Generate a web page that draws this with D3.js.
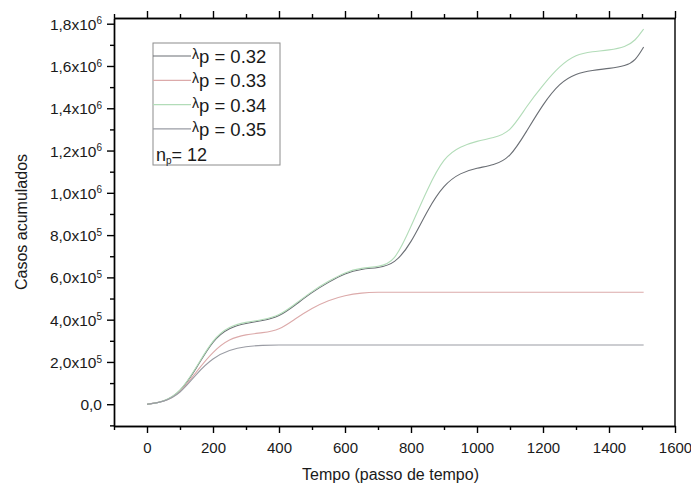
<!DOCTYPE html>
<html lang="pt">
<head>
<meta charset="utf-8">
<title>Casos acumulados</title>
<script src="https://cdn.jsdelivr.net/npm/d3@7/dist/d3.min.js"></script>
<style>
    body { margin: 0; background: #fff; }
    svg text { font-family: "Liberation Sans", Arial, sans-serif; fill: #1a1a1a; }
    .axis path, .axis line { stroke: #000; stroke-width: 1.4px; fill: none; }
    .serie { fill: none; stroke-width: 1.1px; }
</style>
</head>
<body>
<div id="grafico"></div>

<script type="text/javascript">

// tempo (passo de tempo)
var tempo = [0, 50, 100, 150, 200, 250, 300, 350, 400, 450, 500, 550, 600, 650, 700, 750,
             800, 850, 900, 950, 1000, 1050, 1100, 1150, 1200, 1250, 1300, 1350, 1400, 1450, 1480, 1505];

var casos032 = [0, 1.0e4, 5.3e4, 1.7e5, 3.05e5, 3.63e5, 3.83e5, 3.95e5, 4.13e5, 4.7e5, 5.3e5, 5.77e5, 6.2e5, 6.4e5, 6.45e5, 6.62e5,
                7.6e5, 9.2e5, 1.04e6, 1.095e6, 1.118e6, 1.13e6, 1.165e6, 1.29e6, 1.42e6, 1.52e6, 1.565e6, 1.58e6, 1.588e6, 1.6e6, 1.625e6, 1.69e6];
var casos033 = [0, 1.0e4, 5.0e4, 1.55e5, 2.5e5, 3.1e5, 3.3e5, 3.38e5, 3.5e5, 4.05e5, 4.55e5, 4.92e5, 5.15e5, 5.27e5, 5.3e5, 5.3e5,
                5.3e5, 5.3e5, 5.3e5, 5.3e5, 5.3e5, 5.3e5, 5.3e5, 5.3e5, 5.3e5, 5.3e5, 5.3e5, 5.3e5, 5.3e5, 5.3e5, 5.3e5, 5.3e5];
var casos034 = [0, 1.0e4, 5.5e4, 1.75e5, 3.1e5, 3.7e5, 3.88e5, 4.0e5, 4.18e5, 4.75e5, 5.35e5, 5.82e5, 6.25e5, 6.45e5, 6.5e5, 6.7e5,
                8.4e5, 1.02e6, 1.17e6, 1.22e6, 1.245e6, 1.26e6, 1.285e6, 1.41e6, 1.51e6, 1.6e6, 1.655e6, 1.668e6, 1.675e6, 1.69e6, 1.72e6, 1.775e6];
var casos035 = [0, 1.0e4, 4.8e4, 1.45e5, 2.2e5, 2.57e5, 2.74e5, 2.79e5, 2.8e5, 2.8e5, 2.8e5, 2.8e5, 2.8e5, 2.8e5, 2.8e5, 2.8e5,
                2.8e5, 2.8e5, 2.8e5, 2.8e5, 2.8e5, 2.8e5, 2.8e5, 2.8e5, 2.8e5, 2.8e5, 2.8e5, 2.8e5, 2.8e5, 2.8e5, 2.8e5, 2.8e5];

var lambdas = ["0.32", "0.33", "0.34", "0.35"];
var cores = ["#6a6e74", "#dcaaaa", "#b2dcb8", "#9a9ca4"];
var n_p = 12;

var xTicks = [0, 200, 400, 600, 800, 1000, 1200, 1400, 1600];
var yTicks = [0, 2e5, 4e5, 6e5, 8e5, 1e6, 1.2e6, 1.4e6, 1.6e6, 1.8e6];

var series = [casos032, casos033, casos034, casos035];

var width = 691, height = 493;
var pLeft = 114, pRight = 675, pTop = 18, pBottom = 426;

var svg = d3.select("#grafico")
    .append("svg")
    .attr("width", width)
    .attr("height", height);

var x = d3.scaleLinear().domain([-100, 1600]).range([pLeft, pRight]);
var y = d3.scaleLinear().domain([-1.03e5, 1.827e6]).range([pBottom, pTop]);

// minor ticks first
var xMinor = d3.range(-100, 1601, 100).filter(function(d) { return xTicks.indexOf(d) < 0; });
var yMinor = d3.range(-1e5, 1.81e6, 1e5).filter(function(d) { return yTicks.indexOf(Math.round(d)) < 0; });

svg.append("g")
    .attr("class", "axis")
    .attr("transform", "translate(0," + pBottom + ")")
    .call(d3.axisBottom(x).tickValues(xMinor).tickSize(4).tickSizeOuter(0).tickFormat(""));
svg.append("g")
    .attr("class", "axis")
    .attr("transform", "translate(0," + pTop + ")")
    .call(d3.axisTop(x).tickValues(xMinor).tickSize(4).tickSizeOuter(0).tickFormat(""));
svg.append("g")
    .attr("class", "axis")
    .attr("transform", "translate(" + pLeft + ",0)")
    .call(d3.axisLeft(y).tickValues(yMinor).tickSize(4).tickSizeOuter(0).tickFormat(""));

// major ticks
var xAxis = svg.append("g")
    .attr("class", "axis")
    .attr("transform", "translate(0," + pBottom + ")")
    .call(d3.axisBottom(x).tickValues(xTicks).tickSize(7).tickSizeOuter(0).tickPadding(9).tickFormat(d3.format("d")));
xAxis.selectAll("text")
    .style("font-size", "15px")
    .attr("fill", "#1a1a1a");

svg.append("g")
    .attr("class", "axis")
    .attr("transform", "translate(0," + pTop + ")")
    .call(d3.axisTop(x).tickValues(xTicks).tickSize(7).tickSizeOuter(0).tickFormat(""));

var yAxis = svg.append("g")
    .attr("class", "axis")
    .attr("transform", "translate(" + pLeft + ",0)")
    .call(d3.axisLeft(y).tickValues(yTicks).tickSize(7).tickSizeOuter(0).tickFormat(""));

// y labels like 1,8x10^6
yAxis.selectAll(".tick").each(function(d) {
    var t = d3.select(this).append("text")
        .attr("x", -12)
        .attr("dy", "0.36em")
        .attr("text-anchor", "end")
        .style("font-size", "15.5px")
        .attr("fill", "#1a1a1a");
    if (d === 0) {
        t.text("0,0");
        return;
    }
    var e = Math.floor(Math.log10(d) + 1e-9);
    var m = (d / Math.pow(10, e)).toFixed(1).replace(".", ",");
    t.append("tspan").text(m + "x10");
    t.append("tspan").attr("dy", "-0.55em").style("font-size", "10px").text(e);
});

// right frame line
svg.append("line")
    .attr("x1", pRight).attr("x2", pRight)
    .attr("y1", pTop).attr("y2", pBottom)
    .attr("stroke", "#000").attr("stroke-width", 1.4);

// curves
var line = d3.line()
    .x(function(d, i) { return x(tempo[i]); })
    .y(function(d) { return y(d); })
    .curve(d3.curveBasis);

svg.selectAll(".serie")
    .data(series)
    .enter().append("path")
    .attr("class", "serie")
    .attr("d", line)
    .attr("stroke", function(d, i) { return cores[i]; });

// axis titles
svg.append("text")
    .attr("x", (pLeft + pRight) / 2 - 4)
    .attr("y", 480)
    .attr("text-anchor", "middle")
    .style("font-size", "16px")
    .text("Tempo (passo de tempo)");

svg.append("text")
    .attr("transform", "translate(27," + 222 + ") rotate(-90)")
    .attr("text-anchor", "middle")
    .style("font-size", "16px")
    .text("Casos acumulados");

// legend
var leg = svg.append("g").attr("transform", "translate(153,43)");
leg.append("rect")
    .attr("width", 127).attr("height", 122)
    .attr("fill", "#fff")
    .attr("stroke", "#8c8c8c")
    .attr("stroke-width", 1);

var rows = leg.selectAll(".legend")
    .data(lambdas)
    .enter().append("g")
    .attr("class", "legend")
    .attr("transform", function(d, i) { return "translate(0," + (13 + i * 24.3) + ")"; });

rows.append("line")
    .attr("x1", 0).attr("x2", 38)
    .attr("stroke", function(d, i) { return cores[i]; })
    .attr("stroke-width", 1.2);

var lt = rows.append("text")
    .attr("x", 39)
    .attr("y", 7)
    .style("font-size", "18.5px");
lt.append("tspan").attr("dy", "-4").style("font-size", "14px").text("λ");
lt.append("tspan").attr("dy", "4").text(function(d) { return "p = " + d; });

var np = leg.append("text")
    .attr("x", 3)
    .attr("y", 118)
    .style("font-size", "18px");
np.append("tspan").text("n");
np.append("tspan").attr("dy", "3").style("font-size", "10px").text("p");
np.append("tspan").attr("dy", "-3").text("= " + n_p);

</script>
</body>
</html>
